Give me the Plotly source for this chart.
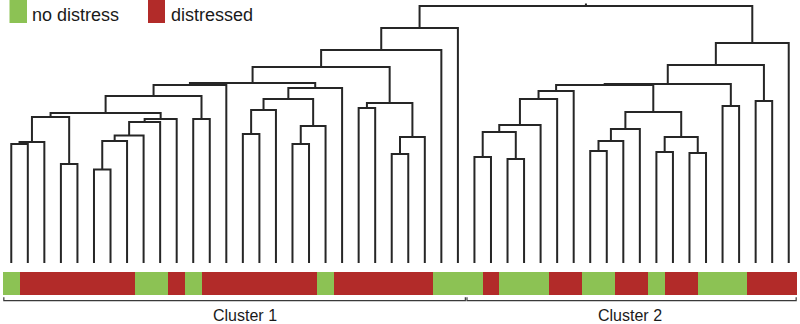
import plotly.graph_objects as go

# ---------------- data ----------------
# leaf status in dendrogram order: 0 = no distress, 1 = distressed
leaf_status = [0, 1, 1, 1, 1, 1, 1, 1, 0, 0, 1, 0, 1, 1, 1, 1, 1, 1, 1, 0,
               1, 1, 1, 1, 1, 1, 0, 0, 0, 1, 0, 0, 0, 1, 1, 0, 0, 1, 1, 0,
               1, 1, 0, 0, 0, 1, 1, 1]
status_names = ["no distress", "distressed"]
status_colors = ["#8CC254", "#B22B29"]

# linkage: node 48+k joins merge_left[k] and merge_right[k] at merge_height[k]
merge_left = [0, 48, 3, 49, 5, 52, 53, 54, 55, 51, 11, 57, 59, 14, 61, 17, 63, 62, 65, 60,
              21, 23, 69, 68, 67, 72, 73, 28, 30, 75, 77, 78, 79, 35, 81, 82, 39, 41, 84, 83,
              80, 43, 88, 45, 90, 92, 74]
merge_right = [1, 2, 4, 50, 6, 7, 8, 9, 10, 56, 12, 58, 13, 15, 16, 18, 19, 64, 20, 66,
               22, 24, 25, 70, 71, 26, 27, 29, 31, 76, 32, 33, 34, 36, 37, 38, 40, 42, 85, 86,
               87, 44, 89, 46, 91, 47, 93]
merge_height = [11.9, 12.1, 9.9, 14.6, 9.35, 12.2, 12.75, 14.1, 14.4, 15.0, 14.4, 16.7, 17.8,
                12.9, 15.3, 11.9, 13.7, 16.4, 17.5, 18.0, 15.5, 10.9, 12.6, 16.0, 19.6, 21.3,
                23.5, 10.6, 10.4, 13.1, 13.8, 16.4, 17.2, 11.2, 12.2, 13.4, 11.1, 11.0, 12.6,
                15.1, 17.8, 15.7, 17.9, 16.2, 19.8, 22.0, 25.7]

cluster_names = ["Cluster 1", "Cluster 2"]
cluster_first = [0, 28]
cluster_last = [27, 47]

# ---------------- dendrogram geometry from linkage ----------------
n = len(leaf_status)
pos = {i: float(i) for i in range(n)}
hgt = {i: 0.0 for i in range(n)}
xs, ys = [], []
for k, (a, b, h) in enumerate(zip(merge_left, merge_right, merge_height)):
    xa, xb = pos[a], pos[b]
    xs += [xa, xa, xb, xb, None]
    ys += [hgt[a], h, h, hgt[b], None]
    pos[n + k] = (xa + xb) / 2.0
    hgt[n + k] = h
root = n + len(merge_height) - 1
xs += [pos[root], pos[root], None]
ys += [hgt[root], hgt[root] + 0.25, None]

fig = go.Figure()
fig.add_trace(go.Scatter(x=xs, y=ys, mode="lines",
                         line=dict(color="#262626", width=2),
                         hoverinfo="skip", xaxis="x", yaxis="y", cliponaxis=False))

# colour strip
fig.add_trace(go.Bar(x=list(range(n)), y=[23] * n, base=[272] * n, width=1.0,
                     marker=dict(color=[status_colors[s] for s in leaf_status],
                                 line=dict(width=0)),
                     hovertext=[status_names[s] for s in leaf_status],
                     xaxis="x", yaxis="y2"))

# cluster brackets
bx, by = [], []
for f, l in zip(cluster_first, cluster_last):
    x0, x1 = f - 0.45, l + 0.45
    bx += [x0, x0, x1, x1, None]
    by += [297.3, 300.7, 300.7, 297.3, None]
fig.add_trace(go.Scatter(x=bx, y=by, mode="lines",
                         line=dict(color="#3a3a3a", width=1.2),
                         hoverinfo="skip", xaxis="x", yaxis="y2"))

label_x = [14.1, 37.4]
annotations = []
for name, lx in zip(cluster_names, label_x):
    annotations.append(dict(x=lx, y=1 - 315 / 324, xref="x", yref="paper",
                            text=name, showarrow=False, xanchor="center", yanchor="middle",
                            font=dict(family="Liberation Sans, Arial, sans-serif",
                                      size=16, color="#1a1a1a")))

# legend (manual)
def px(p):
    return (p - 3) / 794.0

shapes = []
leg_sq = [(9.5, 27.0), (148.0, 165.0)]
leg_txt = [29.5, 168.5]
for i, name in enumerate(status_names):
    shapes.append(dict(type="rect", xref="paper", yref="paper",
                       x0=px(leg_sq[i][0]), x1=px(leg_sq[i][1]),
                       y0=1 - 23 / 324, y1=1.0,
                       fillcolor=status_colors[i], line=dict(width=0)))
    annotations.append(dict(x=px(leg_txt[i]), y=1 - 15.5 / 324, xref="paper", yref="paper",
                            text=name, showarrow=False, xanchor="left", yanchor="middle",
                            font=dict(family="Liberation Sans, Arial, sans-serif",
                                      size=18, color="#1a1a1a")))

fig.update_layout(
    width=800, height=324,
    margin=dict(l=3, r=3, t=0, b=0),
    paper_bgcolor="white", plot_bgcolor="rgba(0,0,0,0)",
    showlegend=False, bargap=0,
    xaxis=dict(range=[-0.5, 47.5], visible=False, domain=[0, 1]),
    yaxis=dict(range=[0, 26.3], domain=[1 - 263 / 324, 1], visible=False),
    yaxis2=dict(range=[324, 0], domain=[0, 1], visible=False, anchor="x"),
    annotations=annotations, shapes=shapes,
)

fig.write_html("out.html", config={"displayModeBar": False},
               post_script="document.body.style.margin='0';document.body.style.overflow='hidden';")
